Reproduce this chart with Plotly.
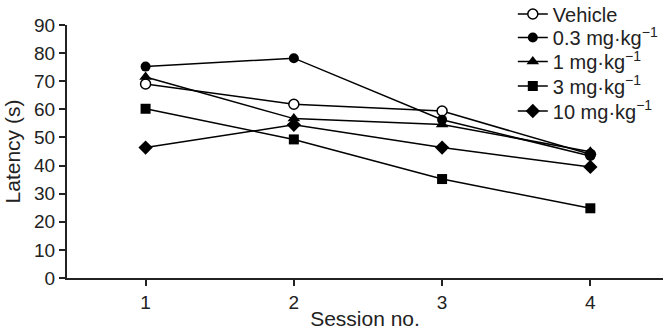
import plotly.graph_objects as go

sessions = [1, 2, 3, 4]
series_names = ["Vehicle", "0.3 mg·kg<sup>−1</sup>", "1 mg·kg<sup>−1</sup>", "3 mg·kg<sup>−1</sup>", "10 mg·kg<sup>−1</sup>"]
vehicle = [69.0, 61.8, 59.4, 44.0]
dose_03 = [75.2, 78.2, 56.3, 43.4]
dose_1 = [71.5, 56.7, 54.6, 44.9]
dose_3 = [60.2, 49.3, 35.2, 24.8]
dose_10 = [46.4, 54.5, 46.4, 39.5]
y_ticks = [0, 10, 20, 30, 40, 50, 60, 70, 80, 90]

FONT = "Liberation Sans, Arial, sans-serif"
W, H = 667, 335

styles = [
    dict(symbol="circle", size=10, color="white", line=dict(color="black", width=1.5)),
    dict(symbol="circle", size=10, color="black", line=dict(color="black", width=0)),
    dict(symbol="triangle-up", size=11, color="black", line=dict(color="black", width=0)),
    dict(symbol="square", size=10, color="black", line=dict(color="black", width=0)),
    dict(symbol="diamond", size=11, color="black", line=dict(color="black", width=0)),
]
all_series = [vehicle, dose_03, dose_1, dose_3, dose_10]
legend_ids = ["legend", "legend2", "legend3", "legend4", "legend5"]
legend_centers_px = [14, 37.5, 61.5, 86, 111]

fig = go.Figure()
for name, vals, st, lid in zip(series_names, all_series, styles, legend_ids):
    fig.add_trace(go.Scatter(
        x=sessions, y=vals, name=name, mode="lines+markers",
        line=dict(color="black", width=1.5),
        marker=st, cliponaxis=False, legend=lid,
    ))

legend_common = dict(x=0.748, xref="paper", yref="container", xanchor="left", yanchor="middle",
                     bgcolor="rgba(0,0,0,0)", font=dict(size=20, family=FONT, color="#222"),
                     itemwidth=30, borderwidth=0)
legends = {}
for lid, cy in zip(legend_ids, legend_centers_px):
    legends[lid] = dict(legend_common, y=1 - cy / H)

fig.update_layout(
    width=W, height=H,
    margin=dict(l=67, r=4, t=25, b=57, autoexpand=False),
    paper_bgcolor="white", plot_bgcolor="white",
    font=dict(family=FONT, size=19, color="#222"),
    showlegend=True,
    xaxis=dict(range=[0.47, 4.49], tickvals=sessions, ticktext=[str(s) for s in sessions],
               showline=True, linecolor="#222", linewidth=2, ticks="outside", ticklen=6,
               tickwidth=2, tickcolor="#222", showgrid=False, zeroline=False, automargin=False,
               title=dict(text="Session no.", font=dict(size=21), standoff=0)),
    yaxis=dict(range=[0, 90], tickvals=y_ticks, showline=True, linecolor="#222", linewidth=2,
               ticks="outside", ticklen=6, tickwidth=2, tickcolor="#222", showgrid=False,
               zeroline=False, automargin=False,
               title=dict(text="Latency (s)", font=dict(size=21), standoff=8)),
    **legends,
)

fig.write_html("out.html", config={"displayModeBar": False},
               post_script="document.body.style.margin='0';")
